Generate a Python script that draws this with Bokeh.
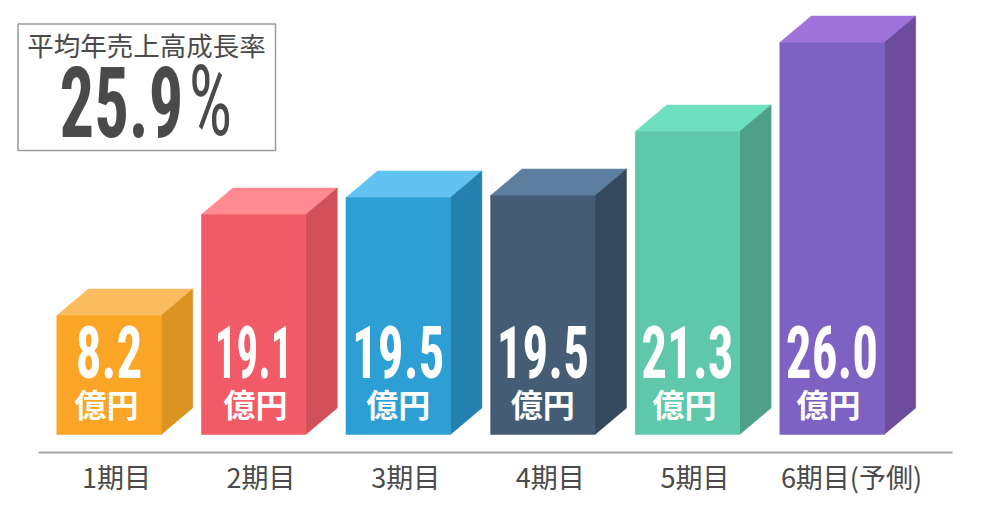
from bokeh.plotting import figure
from bokeh.document import Document
from bokeh.events import DocumentReady
from bokeh.models import Range1d, FixedTicker, CustomJS
from bokeh.core.properties import value
from bokeh.embed import file_html
from bokeh.resources import INLINE

categories = ["1期目", "2期目", "3期目", "4期目", "5期目", "6期目(予側)"]
sales = ["8.2", "19.1", "19.5", "19.5", "21.3", "26.0"]
unit = "億円"
# heights of the bars as drawn (the artwork is not proportional to the printed values)
bar_heights = [119, 220, 237, 239, 303, 392]
front_colors = ["#FAA525", "#F15B65", "#2E9FD5", "#445D75", "#60C8AA", "#7D62C4"]
top_colors = ["#FCBC60", "#FF8A92", "#62C3F2", "#5C7F9F", "#6FE0BF", "#A073DA"]
side_colors = ["#DB9322", "#D25058", "#2480AE", "#34495D", "#4EA188", "#6D4C9D"]
box_title = "平均年売上高成長率"
box_value = "25.9"
box_suffix = "%"

PITCH = 144.6
W, H = 974, 504
half = 52.2 / PITCH
dx = 31.5 / PITCH
dy = 26.5
font = value("Noto Sans CJK JP")
narrow = value("Roboto Condensed")

def px(x_page):
    return (x_page - 108.5) / PITCH

def py(y_page):
    return 434 - y_page

p = figure(width=W, height=H, output_backend="svg", toolbar_location=None,
           x_range=Range1d(px(0), px(W)), y_range=Range1d(py(452), py(0)),
           min_border_left=0, min_border_right=0, min_border_top=0, min_border_bottom=H - 452,
           y_axis_location=None)
p.outline_line_color = None
p.grid.visible = False
p.background_fill_color = "white"

n = range(len(categories))
p.patches([[i - half, i + half, i + half + dx, i - half + dx] for i in n],
          [[h, h, h + dy, h + dy] for h in bar_heights],
          fill_color=top_colors, line_color=top_colors, line_width=0.5)
p.patches([[i + half, i + half + dx, i + half + dx, i + half] for i in n],
          [[0, dy, h + dy, h] for h in bar_heights],
          fill_color=side_colors, line_color=side_colors, line_width=0.5)
p.quad(left=[i - half for i in n], right=[i + half for i in n], bottom=0, top=bar_heights,
       fill_color=front_colors, line_color=front_colors, line_width=0.5)

p.text(list(n), [py(351)] * 6, text=sales, text_color="white", text_font=narrow, text_font_style="bold",
       text_font_size="73px", text_align="center", text_baseline="middle")
unit_shift = [-2.5, 2, 0, 0, -3, -3.5]
p.text([i + s / PITCH for i, s in zip(n, unit_shift)], [py(402)] * 6, text=[unit] * 6, text_color="white",
       text_font=font, text_font_style="bold",
       text_font_size="32px", text_align="center", text_baseline="middle")

# summary box
p.quad(left=[px(17.5)], right=[px(275)], top=[py(23.5)], bottom=[py(150)],
       fill_color=None, line_color="#9a9a9a", line_width=1.5)
p.text([px(146)], [py(44)], text=[box_title], text_color="#4a4a4a", text_font=font,
       text_font_size="26.5px", text_align="center", text_baseline="middle")
p.text([px(121)], [py(101)], text=[box_value], text_color="#4a4a4a", text_font=narrow, text_font_style="bold",
       text_font_size="98px", text_align="center", text_baseline="middle")
p.text([px(210)], [py(101)], text=[box_suffix], text_color="#4a4a4a", text_font=narrow,
       text_font_size="98px", text_align="center", text_baseline="middle")

# x axis: rule and tick labels
tick_shift = 7.5 / PITCH
ticks = [i + tick_shift for i in n]
ticks[-1] += 12 / PITCH
ax = p.xaxis[0]
ax.ticker = FixedTicker(ticks=ticks)
ax.major_label_overrides = {t: c for t, c in zip(ticks, categories)}
ax.bounds = (px(38), px(952))
ax.axis_line_color = "#a6a6a6"
ax.axis_line_width = 2
ax.major_tick_line_color = None
ax.minor_tick_line_color = None
ax.major_tick_in = 0
ax.major_tick_out = 0
ax.major_label_standoff = 4
ax.major_label_text_font = "Noto Sans CJK JP"
ax.major_label_text_font_size = "27px"
ax.major_label_text_color = "#4a4a4a"

# squeeze the condensed numerals horizontally (the original face is narrower than any installed one)
squeeze = CustomJS(code="""
function walk(root, out) {
  for (const el of root.querySelectorAll('*')) {
    if (el.tagName === 'text') out.push(el);
    if (el.shadowRoot) walk(el.shadowRoot, out);
  }
  return out;
}
function apply() {
  for (const t of walk(document, [])) {
    const f = (t.getAttribute('font-family') || '') + (t.getAttribute('style') || '');
    if (f.includes('Condensed') && !t.dataset.sq) {
      const b = t.getBBox();
      const cx = b.x + b.width / 2;
      const k = t.textContent === '19.1' ? 0.59 : 0.7;
      const old = t.getAttribute('transform') || '';
      t.setAttribute('transform', old + ` translate(${cx} 0) scale(${k} 1) translate(${-cx} 0)`);
      t.dataset.sq = '1';
    }
  }
}
setTimeout(apply, 0); setTimeout(apply, 100); setTimeout(apply, 400);
""")
doc = Document()
doc.add_root(p)
doc.js_on_event(DocumentReady, squeeze)
open("out.html", "w").write(file_html(doc, INLINE))
